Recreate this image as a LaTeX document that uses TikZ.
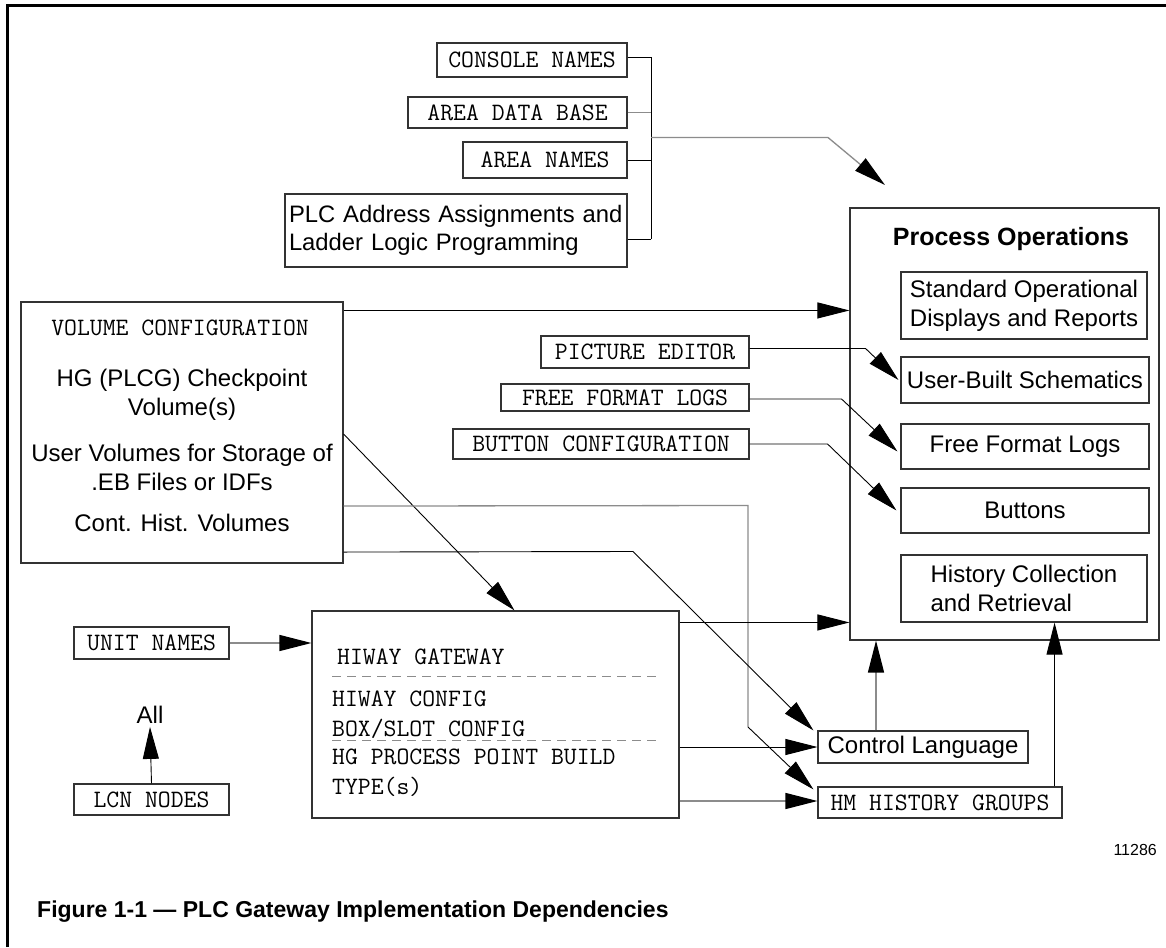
\documentclass[tikz,border=0pt]{standalone}
\usepackage{fontspec}
\setmainfont{Liberation Sans}
\usetikzlibrary{arrows.meta,calc}
\tikzset{
  box/.style={draw=black!80, line width=1.1pt, inner sep=0pt, align=center},
  sanstxt/.style={font=\fontsize{24}{29}\selectfont, inner sep=0pt},
  boldtxt/.style={font=\bfseries\fontsize{25}{29}\selectfont, inner sep=0pt},
  monotxt/.style={font=\ttfamily\fontsize{25}{29}\selectfont, inner sep=0pt},
  tip/.style={-{Triangle[length=32pt,width=16pt,color=black]}},
  arr/.style={draw=black, line width=0.9pt, tip},
  garr/.style={draw=black!45, line width=1.3pt, tip},
  conn/.style={draw=black, line width=0.9pt},
  gconn/.style={draw=black!45, line width=1.3pt},
  dashsep/.style={draw=black!45, line width=1pt, dash pattern=on 9pt off 6pt},
}
\begin{document}
\begin{tikzpicture}[x=1pt,y=-1pt]
\useasboundingbox (0,0) rectangle (1166,947);
\fill[white] (0,0) rectangle (1166,947);
% frame
\draw[line width=3pt] (7,947) -- (7,5.5) -- (1166,5.5);

% top-left group
\node[box,monotxt,minimum width=190pt,minimum height=34pt] (console) at (532,60) {CONSOLE NAMES};
\node[box,monotxt,minimum width=219pt,minimum height=31pt] (areadb) at (517.5,112.5) {AREA DATA BASE};
\node[box,monotxt,minimum width=164pt,minimum height=36pt] (areanames) at (545,160) {AREA NAMES};
\node[box,font=\fontsize{23.8}{28}\selectfont,minimum width=342pt,minimum height=73pt,align=left,text width=334pt] (plc) at (456,230.5) {PLC Address Assignments and\\Ladder Logic Programming};

\coordinate (bus) at (651,137.5);
\coordinate (potip) at (885,185);
\draw[conn] ([yshift=2.5pt]console.east) -- ([yshift=2.5pt]console.east -| bus);
\draw[gconn] (areadb.east) -- (areadb.east -| bus);
\draw[conn] (areanames.east) -- (areanames.east -| bus);
\draw[conn] ([yshift=-8.5pt]plc.east) -- ([yshift=-8.5pt]plc.east -| bus);
\draw[conn] ([yshift=2.5pt]console.east -| bus) -- ([yshift=-8.5pt]plc.east -| bus);
\draw[garr] (bus) -- (828,137.5) -- (potip);

% volume configuration
\node[box,minimum width=322pt,minimum height=261pt] (vol) at (182,432.5) {};
\node[monotxt] at (180,328) {VOLUME CONFIGURATION};
\node[sanstxt,align=center] at (182,395) {HG (PLCG) Checkpoint\\Volume(s)};
\node[sanstxt,align=center] at (182,467) {User Volumes for Storage of\\.EB Files or IDFs};
\node[sanstxt] at (182,523) {Cont. Hist. Volumes};

% process operations
\node[box,minimum width=309pt,minimum height=432pt] (po) at (1004.5,424) {};
\node[boldtxt] at (1011,239) {Process Operations};
\node[box,sanstxt,minimum width=246pt,minimum height=67pt] (std) at (1024,305.5) {Standard Operational\\Displays and Reports};
\node[box,sanstxt,minimum width=248pt,minimum height=46pt] (ub) at (1025,380) {User-Built Schematics};
\node[box,sanstxt,minimum width=248pt,minimum height=45pt] (fl) at (1025,446.5) {Free Format Logs};
\node[box,sanstxt,minimum width=248pt,minimum height=45pt] (bt) at (1025,510.5) {Buttons};
\node[box,sanstxt,minimum width=246pt,minimum height=67pt,align=left] (hc) at (1024,588.5) {History Collection\\and Retrieval};

% editors
\node[box,monotxt,minimum width=208pt,minimum height=32pt] (pe) at (645,352) {PICTURE EDITOR};
\node[box,monotxt,minimum width=248pt,minimum height=27pt] (ff) at (625,397.5) {FREE FORMAT LOGS};
\node[box,monotxt,minimum width=296pt,minimum height=30pt] (bc) at (601,444) {BUTTON CONFIGURATION};
\draw[arr] ([yshift=3.5pt]pe.east) -- ++(116,0) -- ([xshift=-2pt]ub.west);
\draw[arr] ([yshift=-1.5pt]ff.east) -- ++(92,0) -- ([xshift=-3pt,yshift=-5pt]fl.west);
\draw[arr] (bc.east) -- ++(78,0) -- ([xshift=-4pt]bt.west);

% hiway gateway
\node[box,minimum width=367pt,minimum height=207pt] (hw) at (495.5,714.5) {};
\node[monotxt,anchor=west] at (337,657) {HIWAY GATEWAY};
\draw[dashsep] (332,676.5) -- (660,676.5);
\node[monotxt,anchor=west] at (332,699) {HIWAY CONFIG};
\node[monotxt,anchor=west] at (332,729) {BOX/SLOT CONFIG};
\draw[dashsep] (332,740.5) -- (660,740.5);
\node[monotxt,anchor=west] at (332,757) {HG PROCESS POINT BUILD};
\node[monotxt,anchor=west] at (332,787) {TYPE(s)};

% lower right
\node[box,sanstxt,minimum width=210pt,minimum height=32pt] (cl) at (923,747) {Control Language};
\node[box,monotxt,minimum width=244pt,minimum height=31pt] (hm) at (940,802.5) {HM HISTORY GROUPS};

% left small boxes
\node[box,monotxt,minimum width=155pt,minimum height=32pt] (unit) at (151.5,643) {UNIT NAMES};
\node[box,monotxt,minimum width=155pt,minimum height=31pt] (lcn) at (151.5,799.5) {LCN NODES};
\node[sanstxt] (all) at (150,715) {All};

% connectors from volume configuration
\coordinate (v1) at ([yshift=-9pt]vol.north east);
\draw[arr] (v1) -- (v1 -| po.west);
\draw[arr] ([yshift=-1.5pt]vol.east) -- ([xshift=19pt]hw.north);
\coordinate (v3) at ([yshift=57.5pt]vol.south east);
\draw[gconn] (v3) -- (748,505.5) -- (748,727);
\draw[arr] (748,727) -- ([xshift=-4pt,yshift=-3pt]hm.north west);
\coordinate (v4) at ([yshift=11.5pt]vol.south east);
\draw[arr] (v4) -- (633,551.5) -- ([xshift=-4pt]cl.north west);

% connectors from hiway gateway
\coordinate (h1) at ([yshift=-12pt]hw.north east);
\draw[arr] (h1) -- (h1 -| po.west);
\draw[arr] (cl.west -| hw.east) -- (cl.west);
\draw[garr] ([yshift=1.5pt]hm.west -| hw.east) -- ([yshift=1.5pt]hm.west);

% upward connectors
\coordinate (c1) at ([xshift=-47pt]cl.north);
\draw[garr] (c1) -- (c1 |- po.south);
\coordinate (c2) at ([xshift=-8pt]hm.north east);
\draw[arr] (c2) -- (c2 |- hc.south);

\draw[garr] (unit.east) -- (unit.east -| hw.west);
\draw[arr] (lcn.north) -- ([yshift=-3pt]all.south);

% labels
\node[font=\fontsize{16}{19}\selectfont,anchor=east,inner sep=0pt] (num) at (1157,850) {11286};
\node[font=\bfseries\fontsize{23}{27}\selectfont,anchor=west,inner sep=0pt] (cap) at (37,912) {Figure 1-1 — PLC Gateway Implementation Dependencies};
\end{tikzpicture}
\end{document}
